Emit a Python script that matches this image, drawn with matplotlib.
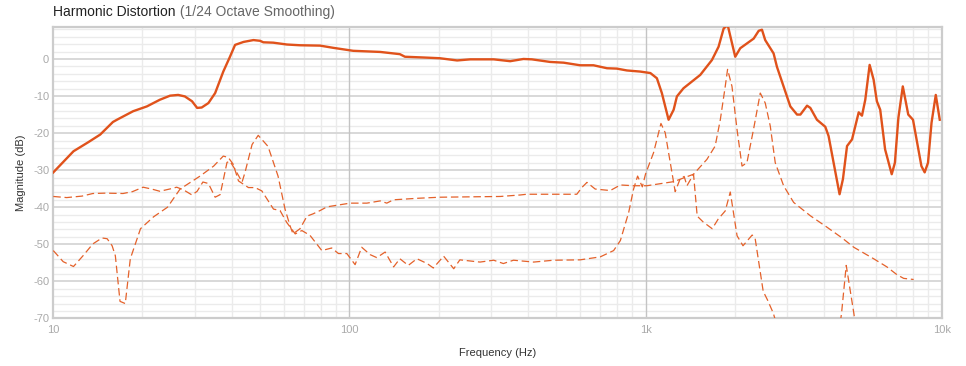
import numpy as np
import matplotlib
matplotlib.use('Agg')
import matplotlib.pyplot as plt
from matplotlib.ticker import FixedLocator, MultipleLocator, LogLocator, NullFormatter

plt.rcParams['font.family'] = ['Liberation Sans', 'DejaVu Sans']
plt.rcParams['axes.unicode_minus'] = False

# fundamental (solid)
fund_hz = [10, 11.7, 13.1, 14.4, 15.9, 16.4, 18.6, 20.7, 22.9, 24.8, 26.4, 27.8, 29.4,
           30.6, 31.7, 33.4, 35.2, 37.5, 39.5, 41.1, 43.9, 47.4, 49.9, 51.2, 55.3, 61.5,
           68.1, 79.6, 88.3, 103, 127, 148, 154, 178, 202, 231, 256, 307, 349, 387, 413,
           476, 529, 601, 667, 741, 800, 865, 959, 1038, 1092, 1135, 1196, 1244, 1276,
           1343, 1530, 1675, 1764, 1835, 1893, 2008, 2088, 2200, 2318, 2410, 2472, 2535,
           2706, 2777, 3082, 3247, 3333, 3510, 3600, 3790, 4045, 4150, 4315, 4520, 4640,
           4790, 4980, 5245, 5380, 5520, 5710, 5890, 6040, 6200, 6440, 6780, 6950, 7140,
           7390, 7710, 8000, 8540, 8760, 8990, 9240, 9550, 9850]
fund_db = [-30.6, -24.9, -22.5, -20.4, -17.0, -16.4, -14.1, -12.8, -11.0, -9.9, -9.7, -10.1,
           -11.4, -13.2, -13.1, -11.9, -9.2, -3.4, 0.6, 3.8, 4.6, 5.1, 4.9, 4.5, 4.4, 3.9,
           3.7, 3.6, 3.0, 2.2, 1.9, 1.3, 0.6, 0.4, 0.2, -0.4, -0.1, -0.1, -0.6, 0.0, -0.1,
           -0.8, -1.0, -1.7, -1.7, -2.5, -2.6, -3.1, -3.4, -3.8, -5.2, -9.2, -16.4, -13.7,
           -10.1, -7.9, -4.3, -0.3, 3.3, 8.2, 9.2, 0.6, 2.9, 4.2, 5.5, 7.6, 7.9, 5.1,
           1.5, -2.1, -12.8, -15.0, -15.0, -12.6, -13.2, -16.4, -18.3, -20.8, -28.0, -36.5,
           -32.4, -23.5, -21.7, -14.4, -15.3, -11.0, -1.6, -5.6, -11.4, -13.7, -24.4, -31.1,
           -28.0, -15.9, -7.4, -15.0, -16.4, -28.9, -30.6, -28.0, -17.2, -9.7, -16.4]

# 2nd harmonic (dashed)
h2_hz = [10, 11.1, 12.5, 13.6, 15, 17.2, 18.5, 20.1, 21.5, 22.9, 25, 26.1, 27.5, 29.4,
         30.6, 32.0, 33.4, 35.2, 36.6, 38.6, 39.5, 41.1, 43.4, 44.4, 46.9, 49.2, 53.1,
         57.4, 60.6, 63.0, 64.5, 68.1, 71.9, 75.3, 79.6, 84.0, 100.5, 114.5, 127, 133.7,
         140.8, 169, 202, 323, 377, 397, 586, 609, 634, 676, 760, 822, 910, 1011, 1245,
         1452, 1611, 1718, 1788, 1858, 1892, 1958, 2036, 2117, 2199, 2315, 2440, 2536,
         2637, 2741, 2925, 3162, 3600, 4100, 4610, 5047, 5890, 6530, 7060, 7440, 8040]
h2_db = [-37.1, -37.4, -37.0, -36.3, -36.2, -36.3, -35.8, -34.6, -35.1, -35.7, -35.0, -34.6,
         -35.3, -36.7, -35.7, -33.2, -33.6, -37.3, -36.6, -27.9, -27.6, -29.8, -33.2, -30.6,
         -23.1, -20.6, -23.6, -31.6, -40.5, -45.0, -47.2, -45.8, -42.4, -41.8, -40.9, -39.9,
         -38.9, -38.9, -38.3, -38.9, -38.0, -37.6, -37.3, -37.1, -36.7, -36.5, -36.5, -34.7,
         -33.3, -35.1, -35.5, -34.0, -34.2, -34.2, -33.1, -31.1, -27.1, -23.5, -16.4, -7.4,
         -2.8, -7.4, -19.0, -28.9, -28.0, -19.0, -9.2, -11.9, -18.1, -28.0, -34.2, -38.7,
         -42.3, -45.4, -48.3, -50.8, -53.9, -56.1, -58.2, -59.2, -59.5]

# 3rd harmonic (dashed)
h3_hz = [10, 10.8, 11.7, 12.6, 13.6, 14.6, 15.2, 15.8, 16.2, 16.8, 17.5, 18.2, 19.7, 21.8,
         24.3, 26.8, 31.3, 34.8, 37.5, 39.0, 40.5, 42.2, 45.6, 48.0, 50.6, 55.4, 58.3, 61.4,
         65.6, 69.1, 73.6, 80.7, 87.1, 91.8, 98, 104.5, 110, 117.5, 123.7, 132, 141, 148,
         158, 169, 183, 192, 208, 225, 236, 276, 307, 331, 358, 419, 489, 601, 703, 780,
         822, 877, 911, 940, 975, 1000, 1064, 1127, 1165, 1196, 1259, 1309, 1350, 1380,
         1452, 1494, 1566, 1679, 1759, 1858, 1932, 2037, 2133, 2291, 2345, 2496, 2580,
         2700, 2850, 3500, 4300, 4590, 4760, 5050, 5400]
h3_db = [-51.7, -54.7, -56.0, -53.1, -49.9, -48.3, -48.5, -50.4, -53.1, -65.4, -66.0, -53.9,
         -45.8, -42.6, -40.0, -35.1, -31.6, -28.9, -26.2, -26.6, -28.4, -32.9, -34.7, -34.7,
         -35.6, -40.5, -40.9, -44.1, -47.2, -46.3, -47.6, -51.7, -51.0, -52.5, -52.5, -55.5,
         -50.8, -52.8, -53.6, -52.1, -56.1, -53.9, -55.7, -53.9, -55.2, -56.4, -53.2, -56.6,
         -54.2, -54.8, -54.3, -55.2, -54.3, -54.8, -54.3, -54.2, -53.4, -51.7, -49.0, -41.4,
         -35.1, -31.6, -34.5, -31.0, -25.3, -17.4, -19.9, -25.3, -35.8, -32.3, -31.7, -34.2,
         -31.1, -42.4, -44.0, -45.8, -43.2, -41.0, -35.9, -47.7, -50.4, -47.5, -48.5, -62.7,
         -65.0, -68.6, -75.0, -90.0, -85.0, -68.6, -55.7, -68.6, -85.0]

decades = [10, 100, 1000, 10000]
decade_labels = ['10', '100', '1k', '10k']

line_color = '#e0521b'
dash_color = '#e4612a'

W, H = 966, 366
fig = plt.figure(figsize=(W / 100, H / 100), dpi=100)
x0, x1, y0, y1 = 53.3, 941.7, 27.1, 318.4
ax = fig.add_axes([x0 / W, 1 - y1 / H, (x1 - x0) / W, (y1 - y0) / H])

ax.plot(h3_hz, h3_db, color=dash_color, lw=0.9, ls=(0, (6, 3)), zorder=3)
ax.plot(h2_hz, h2_db, color=dash_color, lw=0.9, ls=(0, (6, 3)), zorder=3)
ax.plot(fund_hz, fund_db, color=line_color, lw=1.7, zorder=4, solid_joinstyle='round')

ax.set_xscale('log')
ax.set_xlim(10, 10000)
ax.set_ylim(-70, 8.6)

ax.xaxis.set_major_locator(FixedLocator(decades))
ax.set_xticklabels(decade_labels)
ax.xaxis.set_minor_locator(LogLocator(base=10, subs=np.arange(2, 10)))
ax.xaxis.set_minor_formatter(NullFormatter())
ax.yaxis.set_major_locator(MultipleLocator(10))
ax.yaxis.set_minor_locator(MultipleLocator(2))

ax.grid(which='minor', color='#ebebeb', lw=1.0)
ax.grid(which='major', axis='y', color='#d8d8d8', lw=1.4)
ax.set_axisbelow(True)
# decade lines sit on top of the horizontal grid
for d in decades[1:-1]:
    ax.axvline(d, color='#c4c4c4', lw=1.0, zorder=1)

ax.tick_params(which='both', length=0, colors='#aaaaaa', labelsize=8)
ax.tick_params(axis='x', pad=5)
ax.tick_params(axis='y', pad=3)
for s in ax.spines.values():
    s.set_color('#cccccc')
    s.set_linewidth(1.6)

ax.set_ylabel('Magnitude (dB)', fontsize=8, color='#333333', labelpad=5)
ax.set_xlabel('Frequency (Hz)', fontsize=8, color='#333333', labelpad=9)

# title in two tones
t1 = fig.text(x0 / W, 1 - 16 / H, 'Harmonic Distortion', fontsize=10, color='#222222',
              ha='left', va='baseline')
fig.canvas.draw()
bb = t1.get_window_extent()
fig.text(bb.x1 / W, 1 - 16 / H, ' (1/24 Octave Smoothing)', fontsize=10, color='#666666',
         ha='left', va='baseline')

fig.savefig('out.png', dpi=100)
